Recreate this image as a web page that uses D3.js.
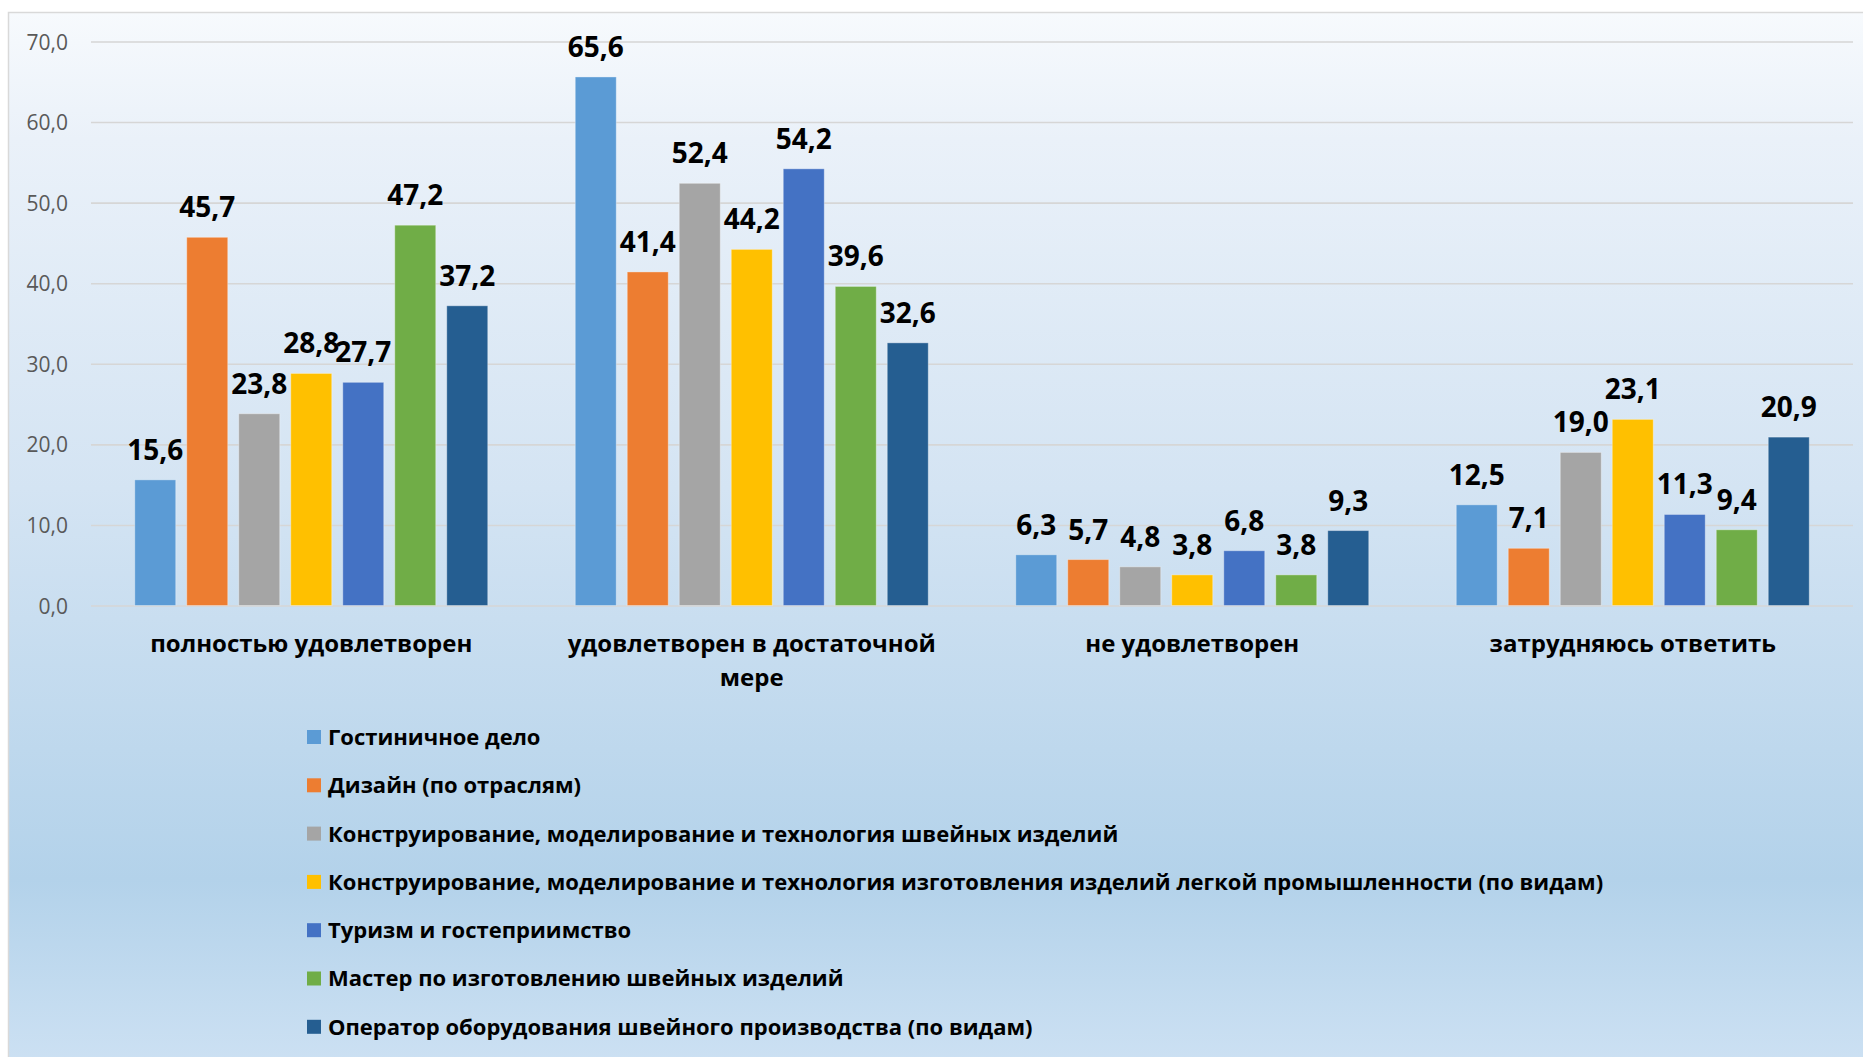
<!DOCTYPE html>
<html>
<head>
<meta charset="utf-8">
<script src="https://cdn.jsdelivr.net/npm/d3@7"></script>
<style>
  html, body { margin: 0; padding: 0; background: #ffffff; }
  svg { display: block; font-family: "Open Sans", "Liberation Sans", sans-serif; }
</style>
</head>
<body>
<svg id="chart" width="1863" height="1057"></svg>
<script>
// ---------- data ----------
const categories = ["полностью удовлетворен", "удовлетворен в достаточной мере", "не удовлетворен", "затрудняюсь ответить"];
const seriesNames = [
  "Гостиничное дело",
  "Дизайн (по отраслям)",
  "Конструирование, моделирование и технология швейных изделий",
  "Конструирование, моделирование и технология изготовления изделий легкой промышленности (по видам)",
  "Туризм и гостеприимство",
  "Мастер по изготовлению швейных изделий",
  "Оператор оборудования швейного производства (по видам)"
];
const hotelValues    = [15.6, 65.6, 6.3, 12.5];
const designValues   = [45.7, 41.4, 5.7, 7.1];
const sewingValues   = [23.8, 52.4, 4.8, 19.0];
const lightIndValues = [28.8, 44.2, 3.8, 23.1];
const tourismValues  = [27.7, 54.2, 6.8, 11.3];
const masterValues   = [47.2, 39.6, 3.8, 9.4];
const operatorValues = [37.2, 32.6, 9.3, 20.9];
const seriesValues = [hotelValues, designValues, sewingValues, lightIndValues, tourismValues, masterValues, operatorValues];
const yTicks = [0, 10, 20, 30, 40, 50, 60, 70];
const colors = ["#5B9BD5", "#ED7D31", "#A5A5A5", "#FFC000", "#4472C4", "#70AD47", "#255E91"];

// ---------- layout ----------
const W = 1863, H = 1057;
const FONT = '"Open Sans", "Liberation Sans", sans-serif';
const plot = { left: 91, right: 1853, top: 41.5, bottom: 605.5 };
const svg = d3.select("#chart");
const ru = d3.formatLocale({ decimal: ",", thousands: " ", grouping: [3], currency: ["", " ₽"] });
const fmt = ru.format(".1f");

// background
const defs = svg.append("defs");
const grad = defs.append("linearGradient").attr("id", "bg").attr("x1", 0).attr("y1", 0).attr("x2", 0).attr("y2", 1);
[[0, "#f7fafd"], [0.12, "#eaf1f9"], [0.45, "#d4e4f3"], [0.82, "#b3d2ea"], [1, "#cde1f3"]].forEach(([o, c]) =>
  grad.append("stop").attr("offset", o).attr("stop-color", c));
svg.append("rect").attr("x", 8.5).attr("y", 12.5).attr("width", W).attr("height", H)
  .attr("fill", "url(#bg)").attr("stroke", "#d9d9d9").attr("stroke-width", 1.5);

// scales
const x0 = d3.scaleBand().domain(categories).range([plot.left, plot.right]).paddingInner(0.1986).paddingOuter(0.0993);
const x1 = d3.scaleBand().domain(d3.range(seriesNames.length)).range([0, x0.bandwidth()]).paddingInner(0.2115).paddingOuter(0);
const y = d3.scaleLinear().domain([0, 70]).range([plot.bottom, plot.top]);

// gridlines + y axis
const yAxis = d3.axisLeft(y).tickValues(yTicks).tickFormat(fmt).tickSize(-(plot.right - plot.left)).tickPadding(23);
const gy = svg.append("g").attr("transform", `translate(${plot.left},0)`).call(yAxis)
  .attr("font-family", FONT).attr("font-size", 21);
gy.select(".domain").remove();
gy.selectAll(".tick line").attr("stroke", "#d6d6d6").attr("stroke-width", 1.6);
gy.selectAll(".tick text").attr("fill", "#595959").attr("dy", "0.36em");

// bars
const groups = svg.append("g").selectAll("g").data(seriesValues).join("g")
  .attr("fill", (d, i) => colors[i]);
groups.selectAll("rect").data((vals, si) => vals.map((v, ci) => ({ v, ci, si }))).join("rect")
  .attr("x", d => x0(categories[d.ci]) + x1(d.si))
  .attr("y", d => y(d.v))
  .attr("width", x1.bandwidth())
  .attr("height", d => y(0) - y(d.v))
  .attr("stroke", "#ffffff").attr("stroke-opacity", 0.35).attr("stroke-width", 1);

// data labels
groups.selectAll("text").data((vals, si) => vals.map((v, ci) => ({ v, ci, si }))).join("text")
  .attr("x", d => x0(categories[d.ci]) + x1(d.si) + x1.bandwidth() / 2)
  .attr("y", d => y(d.v) - 20)
  .attr("text-anchor", "middle")
  .attr("fill", "#000")
  .attr("font-weight", 700)
  .attr("font-size", 28)
  .text(d => fmt(d.v));

// x axis labels
const xAxis = d3.axisBottom(x0).tickSize(0).tickPadding(0);
const gx = svg.append("g").attr("transform", `translate(0,${plot.bottom})`).call(xAxis)
  .attr("font-family", FONT).attr("font-size", 24).attr("font-weight", 700);
gx.select(".domain").remove();
gx.selectAll(".tick text")
  .attr("fill", "#000")
  .attr("y", 46).attr("dy", 0)
  .each(function (d) {
    const t = d3.select(this);
    const words = d.split(" ");
    t.text(null);
    let line = [], lineNo = 0;
    let tspan = t.append("tspan").attr("x", 0).attr("y", 46);
    for (const w of words) {
      line.push(w);
      tspan.text(line.join(" "));
      if (tspan.node().getComputedTextLength() > 400 && line.length > 1) {
        line.pop();
        tspan.text(line.join(" "));
        line = [w];
        lineNo++;
        tspan = t.append("tspan").attr("x", 0).attr("y", 46 + lineNo * 34).text(w);
      }
    }
  });

// legend
const legend = svg.append("g").selectAll("g").data(seriesNames).join("g")
  .attr("transform", (d, i) => `translate(307,${737 + i * 48.3})`);
legend.append("rect").attr("x", 0).attr("y", -7).attr("width", 14).attr("height", 14)
  .attr("fill", (d, i) => colors[i]);
legend.append("text").attr("x", 21).attr("dy", "0.36em")
  .attr("font-size", 22).attr("font-weight", 700).attr("fill", "#000")
  .text(d => d);
</script>
</body>
</html>
